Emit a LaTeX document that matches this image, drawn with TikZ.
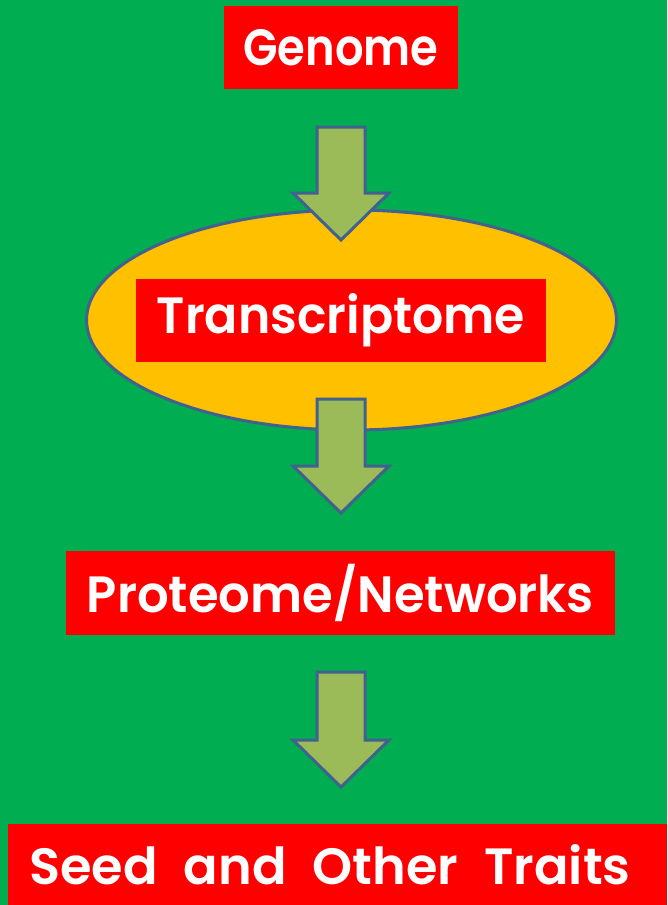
\documentclass[tikz,border=0pt]{standalone}
\usepackage{fontspec}
\setmainfont{Poppins}[BoldFont={Poppins SemiBold}]
\usetikzlibrary{shapes.geometric,calc}
\definecolor{bggreen}{HTML}{00AD50}
\definecolor{boxred}{HTML}{FF0000}
\definecolor{ellfill}{HTML}{FFC000}
\definecolor{edgeblue}{HTML}{41618F}
\definecolor{arrowfill}{HTML}{9BBB59}
\tikzset{
  redbox/.style={fill=boxred, text=white, inner sep=0pt, minimum height=83pt,
    font=\fontsize{51}{60}\selectfont\bfseries},
  blockarrowstyle/.style={fill=arrowfill, draw=edgeblue, line width=3pt, line join=miter},
  ellstyle/.style={ellipse, fill=ellfill, draw=edgeblue, line width=3pt, inner sep=0pt,
    minimum width=530pt, minimum height=220pt}
}
\newcommand{\blockarrow}[2]{%
  \draw[blockarrowstyle] ($(#1)+(-24,0)$) -- ($(#2)+(-24,-47)$) -- ($(#2)+(-48,-47)$)
   -- (#2) -- ($(#2)+(48,-47)$) -- ($(#2)+(24,-47)$) -- ($(#1)+(24,0)$) -- cycle;}
\begin{document}
\begin{tikzpicture}[x=1pt,y=-1pt]
\fill[bggreen] (0,0) rectangle (667,905);
\useasboundingbox (0,0) rectangle (667,905);
\node[redbox, minimum width=234pt] (genome) at (341,47.5) {\scalebox{0.88}[1]{Genome}};
\node[ellstyle] (ell) at (351.5,320) {};
\node[redbox, minimum width=410pt] (trans) at (341,320.5) {\scalebox{0.96}[1]{Transcriptome}};
\node[redbox, minimum width=549pt, minimum height=84pt] (prot) at (340.5,593) {\scalebox{0.975}[1]{Proteome/Networks}};
\node[redbox, minimum width=644pt, minimum height=81pt] (seed) at (330,864.5) {\spaceskip=26pt plus 2pt Seed and Other Traits};
\fill[boxred] (seed.north east) rectangle (667,905);
\coordinate (a1top) at (341,127);
\coordinate (a1tip) at (341,240);
\coordinate (a2top) at (341,399);
\coordinate (a2tip) at (341,513);
\coordinate (a3top) at (341,672);
\coordinate (a3tip) at (341,787);
\blockarrow{a1top}{a1tip}
\blockarrow{a2top}{a2tip}
\blockarrow{a3top}{a3tip}
\end{tikzpicture}
\end{document}
